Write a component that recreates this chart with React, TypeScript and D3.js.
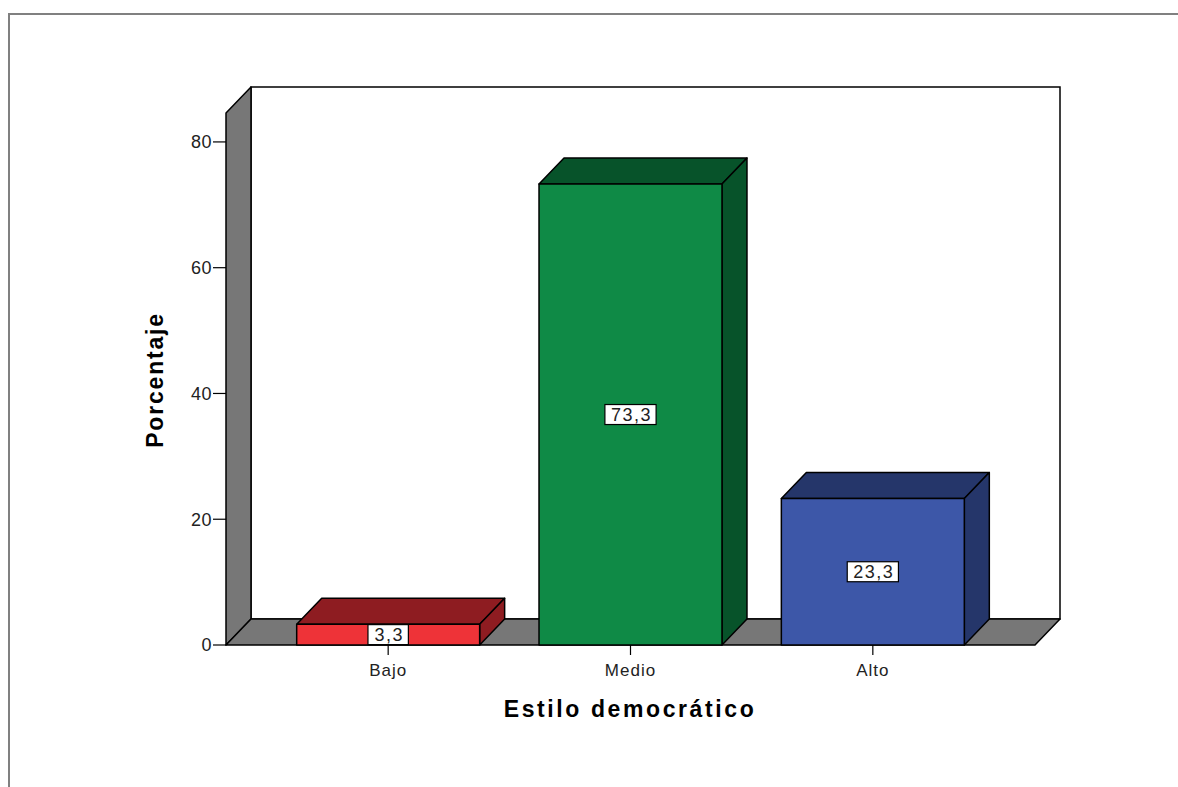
import React from "react";
import * as d3 from "d3";

const categories = ["Bajo", "Medio", "Alto"];
const values = [3.3, 73.3, 23.3];
const valueLabels = ["3,3", "73,3", "23,3"];
const yTicks = [0, 20, 40, 60, 80];
const frontColors = ["#EE3338", "#0F8A46", "#3D57A8"];
const darkColors = ["#8E1C21", "#07532A", "#25366A"];

const W = 1178;
const H = 787;
const DX = 25;
const DY = -26;

export default function App() {
  const x = d3
    .scaleBand<string>()
    .domain(categories)
    .range([267, 994])
    .paddingInner(0.245)
    .paddingOuter(0.1225);
  const y = d3.scaleLinear().domain([0, 84.6]).range([645, 113]);
  const x0 = 226;
  const x1 = 1035;
  const y0 = y(0);
  const yTop = y(84.6);
  const bw = x.bandwidth();
  const font = "'Liberation Sans', Arial, sans-serif";

  return (
    <svg
      width={W}
      height={H}
      style={{ position: "absolute", left: 0, top: 0, background: "#fff" }}
    >
      {/* outer frame */}
      <path d={`M9,${H} L9,14 L${W},14`} fill="none" stroke="#808080" strokeWidth={2} />

      {/* back wall */}
      <rect
        x={x0 + DX}
        y={yTop + DY}
        width={x1 - x0}
        height={y0 - yTop}
        fill="#fff"
        stroke="#000"
        strokeWidth={1.5}
      />
      {/* left wall */}
      <polygon
        points={`${x0},${y0} ${x0},${yTop} ${x0 + DX},${yTop + DY} ${x0 + DX},${y0 + DY}`}
        fill="#777"
        stroke="#000"
        strokeWidth={1.5}
        strokeLinejoin="round"
      />
      {/* floor */}
      <polygon
        points={`${x0},${y0} ${x1},${y0} ${x1 + DX},${y0 + DY} ${x0 + DX},${y0 + DY}`}
        fill="#777"
        stroke="#000"
        strokeWidth={1.5}
        strokeLinejoin="round"
      />

      {/* y axis ticks */}
      {yTicks.map((t) => (
        <g key={t}>
          <line x1={x0 - 13} x2={x0} y1={y(t)} y2={y(t)} stroke="#000" strokeWidth={1.2} />
          <text
            x={x0 - 14}
            y={y(t)}
            dy="0.36em"
            textAnchor="end"
            fontFamily={font}
            fontSize={18}
            letterSpacing={0.5}
            fill="#222"
          >
            {t}
          </text>
        </g>
      ))}

      {/* bars */}
      {categories.map((c, i) => {
        const bx = x(c)!;
        const by = y(values[i]);
        return (
          <g key={c} stroke="#000" strokeWidth={1.5} strokeLinejoin="round">
            <polygon
              points={`${bx},${by} ${bx + DX},${by + DY} ${bx + bw + DX},${by + DY} ${bx + bw},${by}`}
              fill={darkColors[i]}
            />
            <polygon
              points={`${bx + bw},${by} ${bx + bw + DX},${by + DY} ${bx + bw + DX},${y0 + DY} ${bx + bw},${y0}`}
              fill={darkColors[i]}
            />
            <rect x={bx} y={by} width={bw} height={y0 - by} fill={frontColors[i]} />
          </g>
        );
      })}

      {/* category ticks and labels */}
      {categories.map((c) => {
        const cx = x(c)! + bw / 2;
        return (
          <g key={c}>
            <line x1={cx} x2={cx} y1={y0} y2={y0 + 10} stroke="#000" strokeWidth={1.2} />
            <text
              x={cx}
              y={y0 + 31}
              textAnchor="middle"
              fontFamily={font}
              fontSize={17}
              letterSpacing={1}
              fill="#222"
            >
              {c}
            </text>
          </g>
        );
      })}

      {/* value labels */}
      {categories.map((c, i) => {
        const cx = x(c)! + bw / 2;
        const cy = (y(values[i]) + y0) / 2;
        const tw = valueLabels[i].length * 10.8;
        return (
          <g key={c}>
            <rect
              x={cx - tw / 2 - 4}
              y={cy - 10}
              width={tw + 8}
              height={20}
              fill="#fff"
              stroke="#000"
              strokeWidth={1.2}
            />
            <text
              x={cx + 1}
              y={cy}
              dy="0.36em"
              textAnchor="middle"
              fontFamily={font}
              fontSize={18}
              letterSpacing={1.5}
              fill="#222"
            >
              {valueLabels[i]}
            </text>
          </g>
        );
      })}

      {/* axis titles */}
      <text
        x={630}
        y={717}
        textAnchor="middle"
        fontFamily={font}
        fontWeight="bold"
        fontSize={23}
        letterSpacing={2.6}
        fill="#000"
      >
        Estilo democrático
      </text>
      <text
        transform="translate(163,380) rotate(-90)"
        textAnchor="middle"
        fontFamily={font}
        fontWeight="bold"
        fontSize={23}
        letterSpacing={1.8}
        fill="#000"
      >
        Porcentaje
      </text>
    </svg>
  );
}
